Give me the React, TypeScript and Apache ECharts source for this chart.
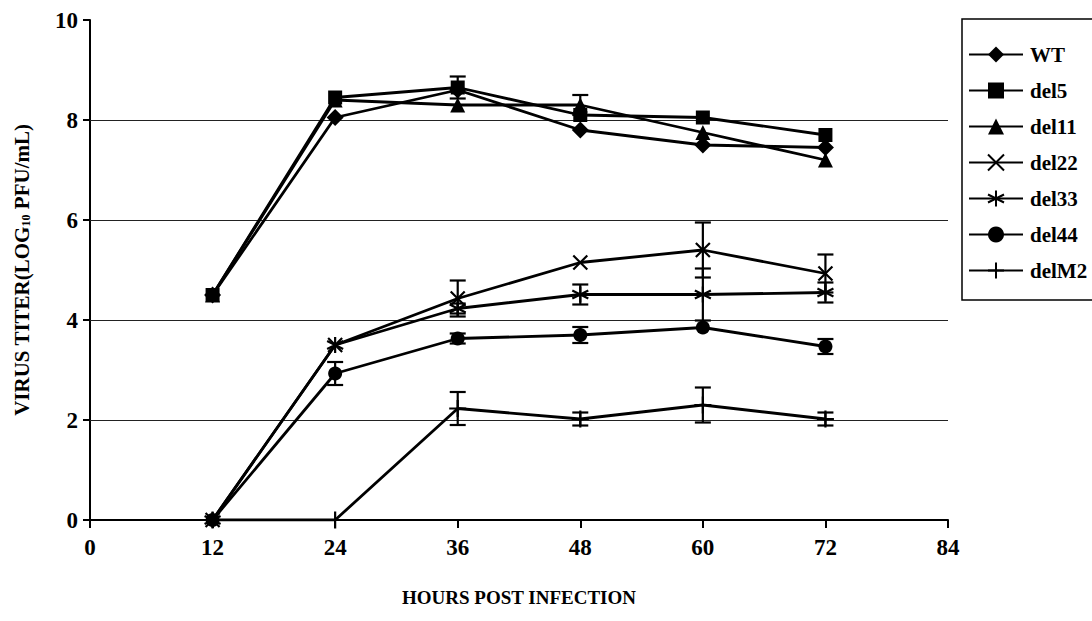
import React, { useEffect, useRef } from "react";
import * as echarts from "echarts";

const hours = [12, 24, 36, 48, 60, 72];
const seriesNames = ["WT", "del5", "del11", "del22", "del33", "del44", "delM2"];
const wt = [4.5, 8.05, 8.6, 7.8, 7.5, 7.45];
const del5 = [4.5, 8.45, 8.65, 8.1, 8.05, 7.7];
const del11 = [4.5, 8.4, 8.3, 8.3, 7.75, 7.2];
const del22 = [0, 3.5, 4.43, 5.15, 5.4, 4.93];
const del33 = [0, 3.5, 4.23, 4.51, 4.51, 4.55];
const del44 = [0, 2.93, 3.63, 3.7, 3.85, 3.47];
const delM2 = [0, 0, 2.23, 2.02, 2.3, 2.02];

const errWT = [0, 0, 0, 0, 0, 0];
const errDel5 = [0, 0, 0.22, 0, 0, 0];
const errDel11 = [0, 0, 0, 0.2, 0, 0];
const errDel22 = [0, 0, 0.36, 0, 0.55, 0.38];
const errDel33 = [0, 0, 0.1, 0.2, 0.52, 0.2];
const errDel44 = [0, 0.23, 0.1, 0.16, 0, 0.15];
const errDelM2 = [0, 0, 0.33, 0.13, 0.35, 0.13];

const gridValues = [2, 4, 6, 8];

const FONT = "Liberation Serif";

const SYM_X = "path://M0,0L10,10M10,0L0,10";
const SYM_AST = "path://M5,0L5,10M0.7,2.5L9.3,7.5M9.3,2.5L0.7,7.5";
const SYM_PLUS = "path://M5,0L5,10M0,5L10,5";

export default function App() {
  const ref = useRef<HTMLDivElement>(null);
  useEffect(() => {
    if (!ref.current) return;
    const chart = echarts.init(ref.current, null, { renderer: "svg" });
    const values = [wt, del5, del11, del22, del33, del44, delM2];
    const errs = [errWT, errDel5, errDel11, errDel22, errDel33, errDel44, errDelM2];
    const symbols = ["diamond", "rect", "triangle", SYM_X, SYM_AST, "circle", SYM_PLUS];
    const sizes = [17, 14, 15, 14, 16, 14, 17];
    const stroked = [false, false, false, true, true, false, true];

    const errData: number[][] = [];
    values.forEach((vals, si) => {
      vals.forEach((v, i) => {
        const e = errs[si][i];
        if (e > 0) errData.push([hours[i], v - e, v + e]);
      });
    });

    const lineSeries = seriesNames.map((name, si) => ({
      name,
      type: "line",
      data: hours.map((h, i) => [h, values[si][i]]),
      symbol: symbols[si],
      symbolSize: sizes[si],
      showAllSymbol: true,
      lineStyle: { color: "#000", width: 2.8 },
      itemStyle: {
        color: "#000",
        borderColor: "#000",
        borderWidth: stroked[si] ? 2.2 : 0,
      },
      z: 3,
      markLine:
        si === 0
          ? {
              silent: true,
              symbol: "none",
              label: { show: false },
              lineStyle: { color: "#222", width: 1.2, type: "solid" },
              data: gridValues.map((g) => ({ yAxis: g })),
              z: 1,
            }
          : undefined,
    }));

    const errSeries = {
      name: "err",
      type: "custom",
      data: errData,
      encode: { x: 0, y: [1, 2] },
      z: 4,
      renderItem: (params: any, api: any) => {
        const x = api.value(0);
        const lo = api.value(1);
        const hi = api.value(2);
        const pHi = api.coord([x, hi]);
        const pLo = api.coord([x, lo]);
        const w = 8;
        const st = { stroke: "#000", lineWidth: 2.2 };
        return {
          type: "group",
          children: [
            { type: "line", shape: { x1: pHi[0], y1: pHi[1], x2: pLo[0], y2: pLo[1] }, style: st },
            { type: "line", shape: { x1: pHi[0] - w, y1: pHi[1], x2: pHi[0] + w, y2: pHi[1] }, style: st },
            { type: "line", shape: { x1: pLo[0] - w, y1: pLo[1], x2: pLo[0] + w, y2: pLo[1] }, style: st },
          ],
        };
      },
    };

    chart.setOption({
      animation: false,
      backgroundColor: "#fff",
      textStyle: { fontFamily: FONT, color: "#000" },
      grid: { left: 90, right: 144, top: 20, bottom: 101 },
      graphic: [
        {
          type: "rect",
          x: 962,
          y: 19,
          shape: { x: 0, y: 0, width: 160, height: 281 },
          style: { fill: "none", stroke: "#000", lineWidth: 1.5 },
          silent: true,
        },
      ],
      legend: {
        data: seriesNames,
        orient: "vertical",
        left: 968,
        top: 44,
        padding: 0,
        itemGap: 15,
        itemWidth: 54,
        itemHeight: 20,
        textStyle: {
          fontFamily: FONT,
          fontSize: 21,
          fontWeight: "bold",
          lineHeight: 20,
          color: "#000",
          padding: [0, 0, 0, 2],
        },
      },
      xAxis: {
        type: "value",
        min: 0,
        max: 84,
        interval: 12,
        name: "HOURS POST INFECTION",
        nameLocation: "middle",
        nameGap: 68,
        nameTextStyle: { fontFamily: FONT, fontSize: 19, fontWeight: "bold", color: "#000" },
        axisLine: { show: true, lineStyle: { color: "#000", width: 2 } },
        axisTick: { show: true, length: 8, lineStyle: { color: "#000", width: 2 } },
        axisLabel: { fontFamily: FONT, fontSize: 23, fontWeight: "bold", color: "#000", margin: 16 },
        splitLine: { show: false },
      },
      yAxis: {
        type: "value",
        min: 0,
        max: 10,
        interval: 2,
        name: "{a|VIRUS TITER(LOG}{s|10}{a| PFU/mL)}",
        nameLocation: "middle",
        nameGap: 58,
        nameRotate: 90,
        nameTextStyle: {
          fontFamily: FONT,
          color: "#000",
          rich: {
            a: { fontFamily: FONT, fontSize: 21, fontWeight: "bold", color: "#000" },
            s: { fontFamily: FONT, fontSize: 12, fontWeight: "bold", color: "#000", verticalAlign: "bottom", padding: [9, 0, 0, 0] },
          },
        },
        axisLine: { show: true, lineStyle: { color: "#000", width: 2 } },
        axisTick: { show: true, length: 7, lineStyle: { color: "#000", width: 2 } },
        axisLabel: { fontFamily: FONT, fontSize: 23, fontWeight: "bold", color: "#000", margin: 12 },
        splitLine: { show: false },
      },
      series: [...lineSeries, errSeries],
    });
    return () => chart.dispose();
  }, []);
  return (
    <div
      ref={ref}
      style={{ position: "fixed", left: 0, top: 0, width: 1092, height: 621, background: "#fff" }}
    />
  );
}
